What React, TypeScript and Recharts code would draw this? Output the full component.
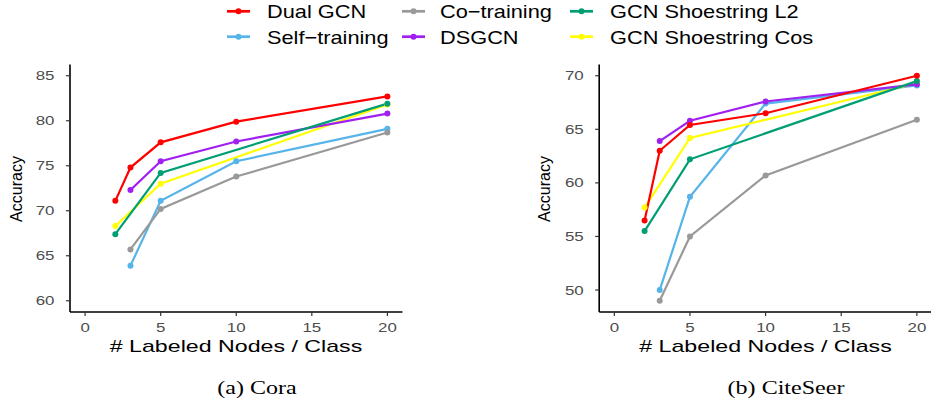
import { LineChart, Line, XAxis, YAxis } from "recharts";

// labeled nodes per class
const xs = [2, 3, 5, 10, 20];
const xTicks = [0, 5, 10, 15, 20];

// Cora accuracy (null = not run)
const coraDual = [71.1, 74.8, 77.6, 79.9, 82.7];
const coraSelf = [null, 63.9, 71.1, 75.5, 79.1];
const coraCo = [null, 65.7, 70.2, 73.8, 78.7];
const coraDsgcn = [null, 72.3, 75.5, 77.7, 80.8];
const coraL2 = [67.4, null, 74.2, null, 81.9];
const coraCos = [68.3, null, 73.0, null, 81.8];
const coraTicks = [60, 65, 70, 75, 80, 85];

// CiteSeer accuracy
const citeDual = [56.5, 63.0, 65.4, 66.5, 70.0];
const citeSelf = [null, 50.0, 58.7, 67.4, 69.1];
const citeCo = [null, 49.0, 55.0, 60.7, 65.9];
const citeDsgcn = [null, 63.9, 65.8, 67.6, 69.2];
const citeL2 = [55.5, null, 62.2, null, 69.5];
const citeCos = [57.7, null, 64.2, null, 69.3];
const citeTicks = [50, 55, 60, 65, 70];

const series = [
  { key: "dual", name: "Dual GCN", color: "#FF0000" },
  { key: "self", name: "Self\u2212training", color: "#56B4E9" },
  { key: "co", name: "Co\u2212training", color: "#999999" },
  { key: "dsgcn", name: "DSGCN", color: "#A020F0" },
  { key: "l2", name: "GCN Shoestring L2", color: "#009E73" },
  { key: "cos", name: "GCN Shoestring Cos", color: "#FFFF00" },
];
// draw order so overlapping end points look like the original
const drawOrder = ["self", "co", "cos", "dsgcn", "l2", "dual"];

const FONT = "'Liberation Sans', Arial, sans-serif";

function buildRows(dual: any[], self: any[], co: any[], dsgcn: any[], l2: any[], cos: any[]) {
  return xs.map((x, i) => ({
    x,
    dual: dual[i],
    self: self[i],
    co: co[i],
    dsgcn: dsgcn[i],
    l2: l2[i],
    cos: cos[i],
  }));
}

const coraRows = buildRows(coraDual, coraSelf, coraCo, coraDsgcn, coraL2, coraCos);
const citeRows = buildRows(citeDual, citeSelf, citeCo, citeDsgcn, citeL2, citeCos);

function XTick(props: any) {
  const { x, y, payload } = props;
  return (
    <text
      transform={`translate(${x},${y + 13.7}) scale(1.3,1)`}
      textAnchor="middle"
      fill="#4D4D4D"
      fontSize={13}
      fontFamily={FONT}
    >
      {payload.value}
    </text>
  );
}

function YTick(props: any) {
  const { x, y, payload } = props;
  return (
    <text
      transform={`translate(${x},${y + 4.6}) scale(1.3,1)`}
      textAnchor="end"
      fill="#4D4D4D"
      fontSize={13}
      fontFamily={FONT}
    >
      {payload.value}
    </text>
  );
}

function Panel({ rows, domain, ticks, width, yWidth, right }: any) {
  return (
    <LineChart
      width={width}
      height={360}
      data={rows}
      margin={{ top: 64.5, right, bottom: 0, left: 0 }}
    >
      <XAxis
        type="number"
        dataKey="x"
        domain={[-1, 21]}
        ticks={xTicks}
        height={48}
        tickSize={4}
        axisLine={{ stroke: "#000", strokeWidth: 1.6 }}
        tickLine={{ stroke: "#333", strokeWidth: 1.2 }}
        tick={XTick}
      />
      <YAxis
        type="number"
        domain={domain}
        ticks={ticks}
        width={yWidth}
        tickSize={4}
        tickMargin={11.5}
        axisLine={{ stroke: "#000", strokeWidth: 1.6 }}
        tickLine={{ stroke: "#333", strokeWidth: 1.2 }}
        tick={YTick}
      />
      {drawOrder.map((k) => {
        const s = series.find((d) => d.key === k)!;
        return (
          <Line
            key={k}
            type="linear"
            dataKey={k}
            stroke={s.color}
            strokeWidth={2.2}
            dot={{ r: 3, fill: s.color, stroke: s.color, strokeWidth: 0 }}
            activeDot={false}
            connectNulls
            isAnimationActive={false}
          />
        );
      })}
    </LineChart>
  );
}

export default function App() {
  const legendCols = [
    { mx: 227, tx: 267 },
    { mx: 402, tx: 440 },
    { mx: 570, tx: 610 },
  ];
  const legendRows = [11.3, 36.7];

  return (
    <div
      style={{
        position: "absolute",
        left: 0,
        top: 0,
        width: 931,
        height: 404,
        overflow: "hidden",
        background: "#fff",
      }}
    >
      <div style={{ position: "absolute", left: 0, top: 0 }}>
        <Panel rows={coraRows} domain={[58.75, 86.25]} ticks={coraTicks} width={420} yWidth={70} right={17.5} />
      </div>
      <div style={{ position: "absolute", left: 520, top: 0 }}>
        <Panel rows={citeRows} domain={[47.95, 71.05]} ticks={citeTicks} width={412} yWidth={79.2} right={0} />
      </div>

      <svg
        width={931}
        height={404}
        style={{ position: "absolute", left: 0, top: 0, pointerEvents: "none" }}
      >
        {/* legend, filled column by column */}
        {series.map((s, i) => {
          const c = legendCols[Math.floor(i / 2)];
          const y = legendRows[i % 2];
          return (
            <g key={s.key}>
              <line x1={c.mx} x2={c.mx + 23} y1={y} y2={y} stroke={s.color} strokeWidth={2.7} />
              <circle cx={c.mx + 11.5} cy={y} r={3} fill={s.color} />
              <text
                transform={`translate(${c.tx},${y + 7}) scale(1.17,1)`}
                fontSize={18.6}
                fontFamily={FONT}
                fill="#000"
              >
                {s.name}
              </text>
            </g>
          );
        })}

        {/* axis titles */}
        <text transform="translate(21.5,189) rotate(-90)" textAnchor="middle" fontSize={16} fontFamily={FONT} fill="#000">
          Accuracy
        </text>
        <text transform="translate(550,189) rotate(-90)" textAnchor="middle" fontSize={16} fontFamily={FONT} fill="#000">
          Accuracy
        </text>
        <text transform="translate(236,351.7) scale(1.45,1)" textAnchor="middle" fontSize={16} fontFamily={FONT} fill="#000">
          # Labeled Nodes / Class
        </text>
        <text transform="translate(765.5,351.7) scale(1.45,1)" textAnchor="middle" fontSize={16} fontFamily={FONT} fill="#000">
          # Labeled Nodes / Class
        </text>

        {/* sub-captions */}
        <text transform="translate(257,394.3) scale(1.3,1)" textAnchor="middle" fontSize={18.5} fontFamily="'Liberation Serif', 'Times New Roman', serif" fill="#000">
          (a) Cora
        </text>
        <text transform="translate(786,394.3) scale(1.3,1)" textAnchor="middle" fontSize={18.5} fontFamily="'Liberation Serif', 'Times New Roman', serif" fill="#000">
          (b) CiteSeer
        </text>
      </svg>
    </div>
  );
}
